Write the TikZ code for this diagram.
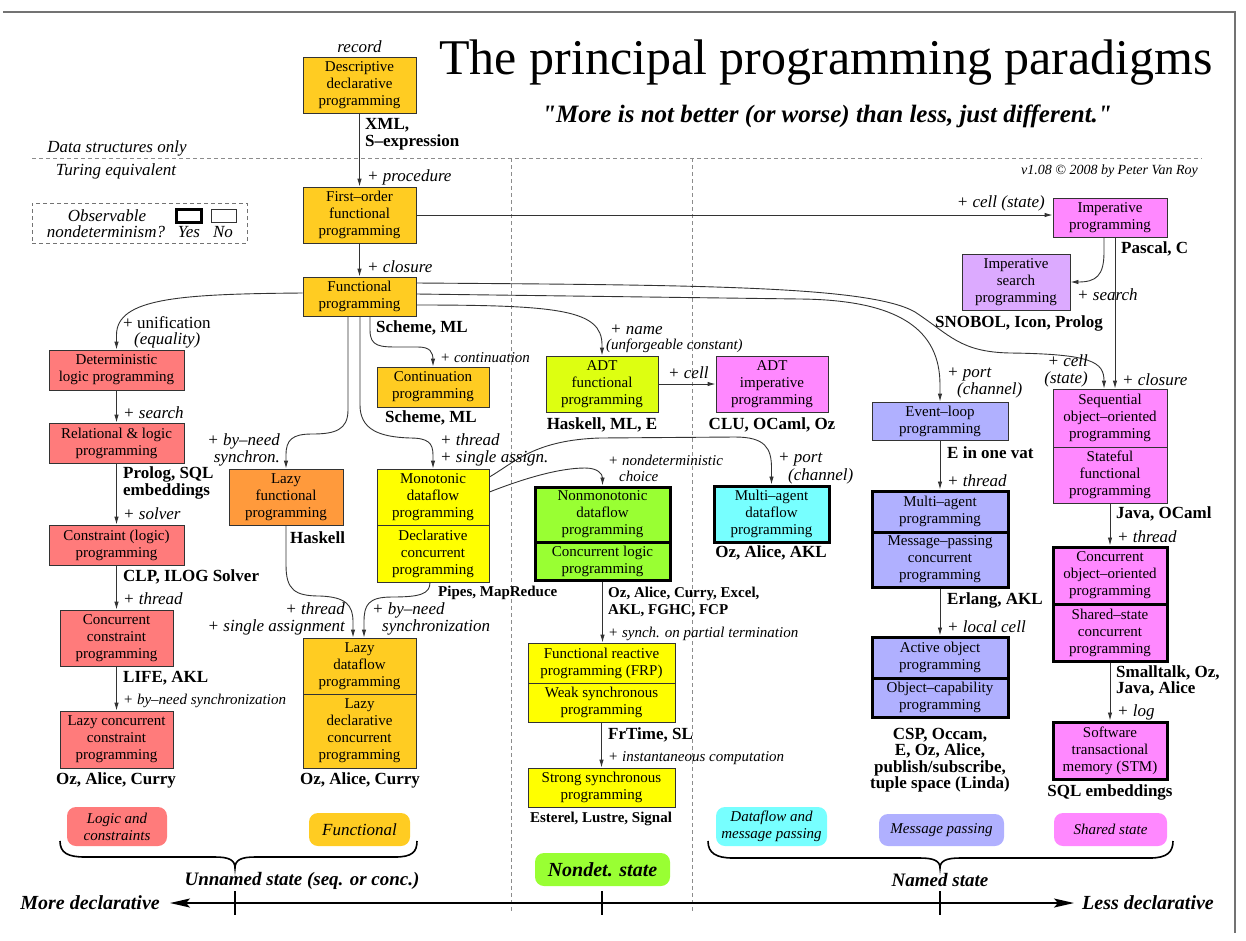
\documentclass[tikz,border=0pt]{standalone}
\usepackage{fontspec}
\setmainfont{Liberation Serif}
\newfontfamily\qfont{Liberation Serif}
\usetikzlibrary{arrows.meta,calc}
\definecolor{cfun}{HTML}{FFCC22}
\definecolor{corange}{HTML}{FF9A3C}
\definecolor{cred}{HTML}{FF7B7B}
\definecolor{cyel}{HTML}{FFFF00}
\definecolor{cadt}{HTML}{DDFF11}
\definecolor{cpink}{HTML}{FF88FF}
\definecolor{clilac}{HTML}{DCAAFF}
\definecolor{clav}{HTML}{B0B0FF}
\definecolor{cgreen}{HTML}{99FF33}
\definecolor{ccyan}{HTML}{77FFFF}
\newcommand\bxn[7]{\node[#2, minimum width={(#5)-(#3)}, minimum height={(#6)-(#4)}] (#1) at ({((#3)+(#5))/2},{((#4)+(#6))/2}) {#7};}
\begin{document}
\begin{tikzpicture}[x=1pt,y=-1pt,
  pbox/.style={draw=black!80, line width=0.9pt, align=center, inner sep=0pt, font=\fontsize{15}{17}\selectfont},
  tbox/.style={pbox, draw=black, line width=3pt},
  lab/.style={inner sep=0pt, font=\fontsize{17}{17}\selectfont\itshape},
  rlab/.style={inner sep=0pt, font=\fontsize{17}{17}\selectfont},
  slab/.style={inner sep=0pt, font=\fontsize{15}{16}\selectfont\itshape},
  blab/.style={inner sep=0pt, font=\fontsize{17}{16.5}\selectfont\bfseries},
  sblab/.style={inner sep=0pt, font=\fontsize{15}{17}\selectfont\bfseries},
  conn/.style={draw=black!80, line width=0.9pt, -{Latex[length=8pt,width=4.5pt]}},
  catbox/.style={rounded corners=9pt, inner sep=0pt, align=center, font=\fontsize{15}{17}\selectfont\itshape},
  dashsep/.style={draw=black!45, line width=0.8pt, dash pattern=on 4pt off 3pt},
  bracestyle/.style={draw=black, line width=1.6pt},
  biglab/.style={inner sep=0pt, font=\fontsize{19}{19}\selectfont\bfseries\itshape},
]
\useasboundingbox (0,0) rectangle (1246,940);
% frame
\draw[black!55, line width=1.2pt] (3,12) -- (1235,12) -- (1235,933);
% separators
\draw[dashsep] (32,158) -- (1202,158);
\draw[dashsep] (511,158) -- (511,913);
\draw[dashsep] (692,158) -- (692,913);
% title
\node[inner sep=0pt, anchor=base, font=\fontsize{50}{50}\selectfont] (ltitle) at (826,74) {The principal programming paradigms};
\node[inner sep=0pt, anchor=base, font=\qfont\fontsize{25}{25}\selectfont\bfseries\itshape] (lsub) at (827,122) {"More is not better (or worse) than less, just different."};
\node[lab] (ldata) at (117,148) {Data structures only};
\node[lab] (lturing) at (116,171) {Turing equivalent};
\node[inner sep=0pt, anchor=east, font=\fontsize{14}{14}\selectfont\itshape] (lver) at (1198,171) {v1.08 © 2008 by Peter Van Roy};
% legend
\bxn{legend}{draw=black!55, dash pattern=on 4pt off 3pt, line width=0.8pt, inner sep=0pt}{32}{203}{247}{243}{}
\bxn{yesbox}{draw=black, line width=3pt, inner sep=0pt}{176}{209}{201}{222}{}
\bxn{nobox}{draw=black!80, line width=0.9pt, inner sep=0pt}{211}{209}{236}{222}{}
\node[lab] (lobs) at (107,216) {Observable};
\node[lab] (lndq) at (106,232) {nondeterminism?};
\node[lab] (lyes) at (189,232) {Yes};
\node[lab] (lno) at (223,232) {No};
% boxes
\bxn{desc}{pbox,fill=cfun}{303}{57}{416}{113}{Descriptive\\declarative\\programming}
\bxn{first}{pbox,fill=cfun}{303}{187}{416}{243}{First–order\\functional\\programming}
\bxn{func}{pbox,fill=cfun}{303}{277}{416}{316}{Functional\\programming}
\bxn{imper}{pbox,fill=cpink}{1053}{198}{1167}{237}{Imperative\\programming}
\bxn{isearch}{pbox,fill=clilac}{962}{254}{1070}{310}{Imperative\\search\\programming}
\bxn{seqoo}{pbox,fill=cpink}{1053}{389}{1167}{447}{Sequential\\object–oriented\\programming}
\bxn{statef}{pbox,fill=cpink}{1053}{447}{1167}{503}{Stateful\\functional\\programming}
\bxn{concoo}{tbox,fill=cpink}{1053}{547}{1167}{604}{Concurrent\\object–oriented\\programming}
\bxn{sharedst}{tbox,fill=cpink}{1053}{604}{1167}{661}{Shared–state\\concurrent\\programming}
\bxn{stm}{tbox,fill=cpink}{1053}{722}{1167}{779}{Software\\transactional\\memory (STM)}
\bxn{evloop}{pbox,fill=clav}{872}{402}{1008}{440}{Event–loop\\programming}
\bxn{magent}{tbox,fill=clav}{872}{491}{1008}{532}{Multi–agent\\programming}
\bxn{msgpass}{tbox,fill=clav}{872}{532}{1008}{587}{Message–passing\\concurrent\\programming}
\bxn{activeo}{tbox,fill=clav}{872}{637}{1008}{678}{Active object\\programming}
\bxn{objcap}{tbox,fill=clav}{872}{678}{1008}{717}{Object–capability\\programming}
\bxn{adtf}{pbox,fill=cadt}{546}{356}{658}{412}{ADT\\functional\\programming}
\bxn{adti}{pbox,fill=cpink}{716}{356}{828}{412}{ADT\\imperative\\programming}
\bxn{cont}{pbox,fill=cfun}{377}{367}{489}{407}{Continuation\\programming}
\bxn{mono}{pbox,fill=cyel}{377}{469}{489}{525}{Monotonic\\dataflow\\programming}
\bxn{declc}{pbox,fill=cyel}{377}{525}{489}{582}{Declarative\\concurrent\\programming}
\bxn{lazyf}{pbox,fill=corange}{229}{469}{343}{525}{Lazy\\functional\\programming}
\bxn{lazydf}{pbox,fill=cfun}{303}{638}{416}{694}{Lazy\\dataflow\\programming}
\bxn{lazydc}{pbox,fill=cfun}{303}{694}{416}{768}{Lazy\\declarative\\concurrent\\programming}
\bxn{detlog}{pbox,fill=cred}{49}{350}{184}{390}{Deterministic\\logic programming}
\bxn{rellog}{pbox,fill=cred}{49}{423}{184}{463}{Relational \& logic\\programming}
\bxn{constr}{pbox,fill=cred}{49}{525}{184}{565}{Constraint (logic)\\programming}
\bxn{ccp}{pbox,fill=cred}{60}{610}{173}{666}{Concurrent\\constraint\\programming}
\bxn{lccp}{pbox,fill=cred}{60}{711}{173}{768}{Lazy concurrent\\constraint\\programming}
\bxn{nonmono}{tbox,fill=cgreen}{535}{487}{670}{542}{Nonmonotonic\\dataflow\\programming}
\bxn{conclog}{tbox,fill=cgreen}{535}{542}{670}{580}{Concurrent logic\\programming}
\bxn{madf}{tbox,fill=ccyan}{714}{486}{829}{542}{Multi–agent\\dataflow\\programming}
\bxn{frp}{pbox,fill=cyel}{528}{643}{675}{683}{Functional reactive\\programming (FRP)}
\bxn{weaks}{pbox,fill=cyel}{528}{683}{675}{722}{Weak synchronous\\programming}
\bxn{strongs}{pbox,fill=cyel}{528}{768}{675}{807}{Strong synchronous\\programming}
% connectors
\draw[conn] (desc.south) -- (first.north);
\draw[conn] (first.south) -- (func.north);
\draw[conn] (first.east) -- (first.east -| imper.west);
\draw[conn] ($(imper.south)+(-6,0)$) -- (1104,252) .. controls (1104,276) and (1096,282) .. (isearch.east);
\draw[conn] ($(imper.south)+(5,0)$) -- ($(seqoo.north)+(5,0)$);
\draw[conn] ($(func.east)+(0,-13.5)$) .. controls (700,285) and (870,286) .. (915,312) .. controls (950,335) and (960,352) .. (1010,353) .. controls (1092,354) and (1104,362) .. ($(seqoo.north)+(-6,0)$);
\draw[conn] ($(func.east)+(0,-2.5)$) -- (800,299) .. controls (900,300) and (940,330) .. (940,385) -- (evloop.north);
\draw[conn] ($(func.east)+(0,8.5)$) .. controls (560,305) and (602,310) .. (602,345) -- (adtf.north);
\draw[conn] (adtf.east) -- (adti.west);
\draw[conn] ($(func.west)+(0,-3.5)$) .. controls (180,294) and (116.5,298) .. (116.5,335) -- (detlog.north);
\draw[conn] ($(func.south)+(10.5,0)$) -- (370,330) .. controls (370,347) and (380,347) .. (400,347) -- (418,347) .. controls (430,347) and (433,352) .. (433,360) -- (cont.north);
\draw[conn] ($(func.south)+(0.5,0)$) -- (360,405) .. controls (360,430) and (380,437) .. (410,438) .. controls (428,438) and (433,443) .. (433,455) -- (mono.north);
\draw[conn] ($(func.south)+(-11.5,0)$) -- (348,410) .. controls (348,430) and (335,434) .. (312,434) .. controls (292,434) and (286,440) .. (286,455) -- (lazyf.north);
\draw[conn] (lazyf.south) -- (286,565) .. controls (286,590) and (295,596) .. (320,596) .. controls (346,597) and (353,605) .. (353,622) -- ($(lazydf.north)+(-6.5,0)$);
\draw[conn] ($(declc.south)+(-3,0)$) .. controls (430,594) and (420,597) .. (392,597) .. controls (368,597) and (364,605) .. (364,622) -- ($(lazydf.north)+(4.5,0)$);
\draw[conn] ($(mono.east)+(0,-5)$) .. controls (525,478) and (560,468) .. (585,468) .. controls (598,468) and (602.5,474) .. (nonmono.north);
\draw[conn] ($(mono.east)+(0,-20)$) .. controls (515,462) and (535,440) .. (600,438) -- (735,437) .. controls (765,437) and (771.5,448) .. (771.5,468) -- (madf.north);
\draw[conn] (conclog.south) -- (conclog.south |- frp.north);
\draw[conn] (weaks.south) -- (strongs.north);
\draw[conn] (evloop.south) -- (magent.north);
\draw[conn] (msgpass.south) -- (activeo.north);
\draw[conn] (statef.south) -- (concoo.north);
\draw[conn] (sharedst.south) -- (stm.north);
\draw[conn] (detlog.south) -- (rellog.north);
\draw[conn] (rellog.south) -- (constr.north);
\draw[conn] (constr.south) -- (ccp.north);
\draw[conn] (ccp.south) -- (lccp.north);
% labels
\node[lab] (lrecord) at (359.5,47) {record};
\node[blab, align=left, anchor=west] (lxml) at (365,134) {XML,\\S–expression};
\node[lab, anchor=west] (lproc) at (367,177) {+ procedure};
\node[lab, anchor=west] (lclos) at (367,267) {+ closure};
\node[lab, anchor=east] (lcellst) at (1045,203) {+ cell (state)};
\node[blab, anchor=west] (lpascal) at (1121,249) {Pascal, C};
\node[lab, anchor=west] (lsearch) at (1077,295) {+ search};
\node[blab] (lsnobol) at (1019,323) {SNOBOL, Icon, Prolog};
\node[lab, align=right, anchor=east] (lcell2) at (1088,371) {+ cell\\(state)};
\node[lab, anchor=west] (lclos2) at (1122,380) {+ closure};
\node[lab, anchor=west] (lport1) at (947,374) {+ port};
\node[lab, anchor=west] (lport2) at (957,390) {(channel)};
\node[blab, anchor=west] (levat) at (947,453) {E in one vat};
\node[lab, anchor=west] (lthr3) at (947,481) {+ thread};
\node[blab, anchor=west] (lerl) at (947,600) {Erlang, AKL};
\node[lab, anchor=west] (llocal) at (947,627) {+ local cell};
\node[blab, align=center] (lcsp) at (940,760) {CSP, Occam,\\E, Oz, Alice,\\publish/subscribe,\\tuple space (Linda)};
\node[blab, anchor=west] (ljava) at (1116,514) {Java, OCaml};
\node[lab, anchor=west] (lthr4) at (1117,537) {+ thread};
\node[blab, align=left, anchor=west] (lsmall) at (1116,681) {Smalltalk, Oz,\\Java, Alice};
\node[lab, anchor=west] (llog) at (1117,712) {+ log};
\node[blab] (lsql) at (1110,792) {SQL embeddings};
\node[lab, anchor=west] (lname1) at (610,330) {+ name};
\node[slab, anchor=west] (lname2) at (606,346) {(unforgeable constant)};
\node[lab, anchor=west] (lcell3) at (668,373) {+ cell};
\node[blab] (lhaskml) at (602,425) {Haskell, ML, E};
\node[blab] (lclu) at (772,425) {CLU, OCaml, Oz};
\node[blab, anchor=west] (lschml1) at (376,328) {Scheme, ML};
\node[slab, anchor=west] (lcontl) at (440,358) {+ continuation};
\node[blab] (lschml2) at (431,418) {Scheme, ML};
\node[lab, align=left, anchor=west] (lthrsa) at (440,450) {+ thread\\+ single assign.};
\node[lab, align=right, anchor=east] (lbyneed1) at (280,450) {+ by–need\\synchron.};
\node[blab, anchor=west] (lhaskell) at (290,538) {Haskell};
\node[sblab, anchor=west] (lpipes) at (438,593) {Pipes, MapReduce};
\node[lab, align=right, anchor=east] (lthrsa2) at (345,619) {+ thread\\+ single assignment};
\node[lab, anchor=west] (lbn2a) at (372,610) {+ by–need};
\node[lab, anchor=west] (lbn2b) at (382,627) {synchronization};
\node[blab] (lozlazy) at (360,780) {Oz, Alice, Curry};
\node[slab, anchor=west] (lnondet1) at (608,460) {+ nondeterministic};
\node[slab, anchor=west] (lnondet2) at (619,476) {choice};
\node[lab, anchor=west] (lport3) at (778,459) {+ port};
\node[lab, anchor=west] (lport4) at (788,476) {(channel)};
\node[blab] (lozakl) at (771,553) {Oz, Alice, AKL};
\node[sblab, align=left, anchor=west] (lozexcel) at (608,602) {Oz, Alice, Curry, Excel,\\AKL, FGHC, FCP};
\node[slab, anchor=west] (lsynch) at (608,634) {+ synch. on partial termination};
\node[blab, anchor=west] (lfrtime) at (608,735) {FrTime, SL};
\node[slab, anchor=west] (linst) at (608,758) {+ instantaneous computation};
\node[sblab] (lesterel) at (601,819) {Esterel, Lustre, Signal};
\node[rlab, anchor=west] (lunif1) at (123,323) {+ unification};
\node[lab, anchor=west] (lunif2) at (134,340) {(equality)};
\node[lab, anchor=west] (lsearch2) at (123,413) {+ search};
\node[blab, align=left, anchor=west] (lprolog) at (123,483) {Prolog, SQL\\embeddings};
\node[lab, anchor=west] (lsolver) at (123,514) {+ solver};
\node[blab, anchor=west] (lclp) at (123,577) {CLP, ILOG Solver};
\node[lab, anchor=west] (lthr1) at (123,599) {+ thread};
\node[blab, anchor=west] (llife) at (123,678) {LIFE, AKL};
\node[slab, anchor=west] (lbn3) at (123,701) {+ by–need synchronization};
\node[blab] (lozlcc) at (116,780) {Oz, Alice, Curry};
% categories
\bxn{catlogic}{catbox,fill=cred}{67}{807}{167}{846}{Logic and\\constraints}
\bxn{catfun}{catbox,fill=cfun,font=\fontsize{17}{17}\selectfont\itshape}{309}{813}{410}{846}{Functional}
\bxn{catnd}{catbox,fill=cgreen,font=\fontsize{20}{20}\selectfont\bfseries\itshape}{535}{853}{670}{886}{Nondet. state}
\bxn{catdf}{catbox,fill=ccyan}{716}{807}{827}{846}{Dataflow and\\message passing}
\bxn{catmsg}{catbox,fill=clav}{879}{814}{1004}{846}{Message passing}
\bxn{catsh}{catbox,fill=cpink}{1054}{813}{1167}{846}{Shared state}
% braces
\draw[bracestyle] (60,841) .. controls (60,853) and (68,857) .. (85,857) -- (215,857) .. controls (229,857) and (235,860) .. (235,868) .. controls (235,860) and (241,857) .. (255,857) -- (395,857) .. controls (412,857) and (417,852) .. (417,841);
\draw[bracestyle] (708,841) .. controls (708,853) and (716,858) .. (733,858) -- (920,858) .. controls (934,858) and (940,861) .. (940,868) .. controls (940,861) and (946,858) .. (960,858) -- (1150,858) .. controls (1167,858) and (1173,852) .. (1173,841);
\node[biglab] (lunnamed) at (302,881) {Unnamed state (seq. or conc.)};
\node[biglab] (lnamed) at (940,880) {Named state};
% axis
\coordinate (axl) at (170,903);
\coordinate (axr) at (1074,903);
\draw[line width=1.5pt, {Stealth[length=20pt,width=9pt,inset=4pt]}-{Stealth[length=20pt,width=9pt,inset=4pt]}] (axl) -- (axr);
\draw[line width=1.5pt] (235,891) -- (235,915);
\draw[line width=1.5pt] (602,891) -- (602,915);
\draw[line width=1.5pt] (940,891) -- (940,915);
\node[inner sep=0pt, anchor=east, font=\fontsize{20}{20}\selectfont\bfseries\itshape] (lmore) at (160,903) {More declarative};
\node[inner sep=0pt, anchor=west, font=\fontsize{20}{20}\selectfont\bfseries\itshape] (lless) at (1082,903) {Less declarative};
\end{tikzpicture}
\end{document}
